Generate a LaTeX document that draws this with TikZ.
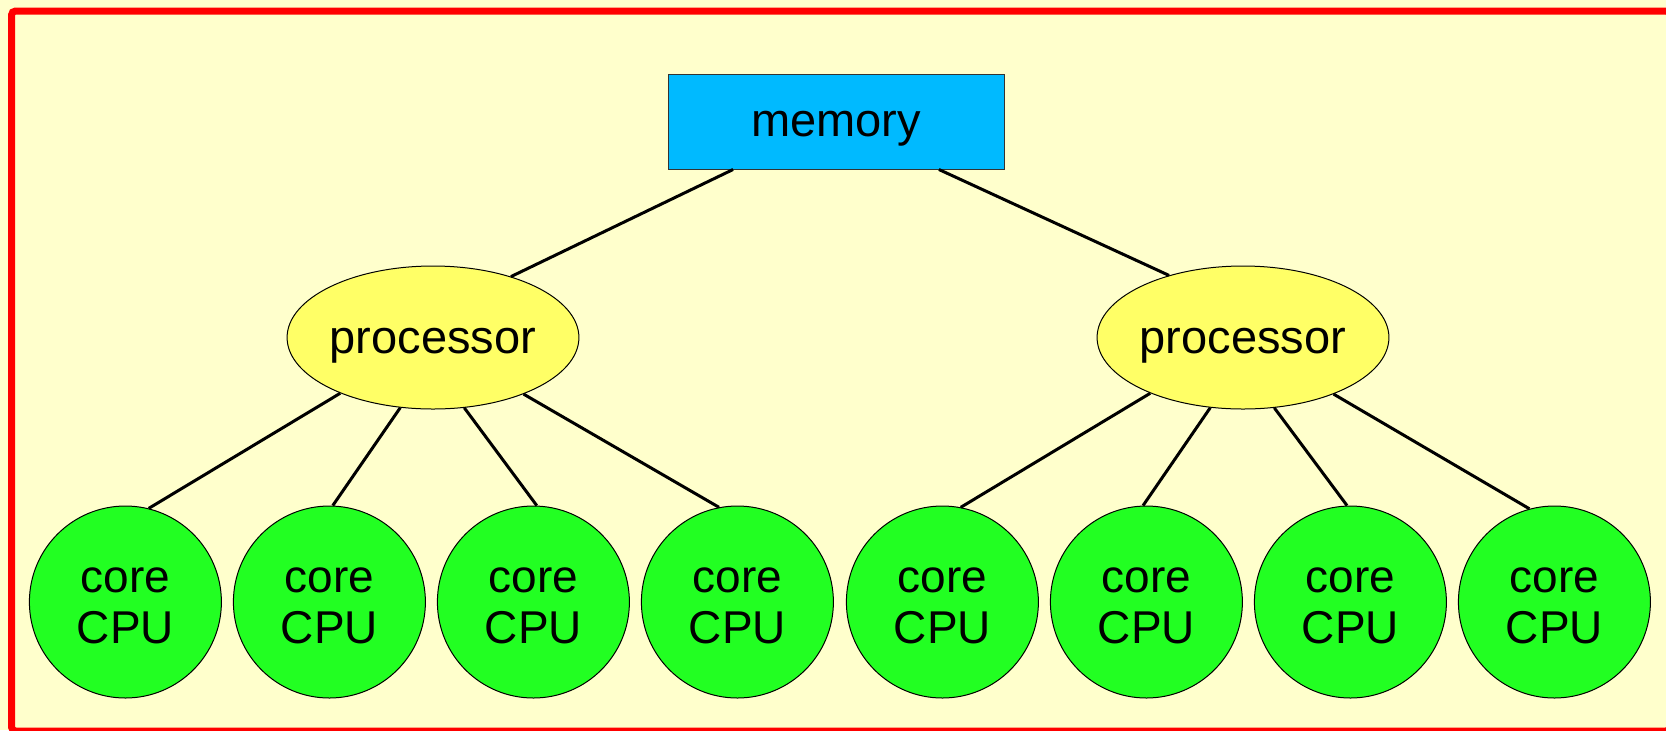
\documentclass[tikz,border=0pt]{standalone}
\usepackage{fontspec}
\setmainfont{Liberation Sans}
\usetikzlibrary{shapes.geometric}
\definecolor{bgyellow}{RGB}{255,255,204}
\definecolor{memblue}{RGB}{0,186,255}
\definecolor{procyellow}{RGB}{255,255,102}
\definecolor{coregreen}{RGB}{34,255,34}
\tikzset{
  memnode/.style={draw=black!80, line width=0.5pt, fill=memblue, rectangle, minimum width=168pt, minimum height=47.5pt, inner sep=0pt, text height=15.2pt, text depth=0pt, font=\fontsize{23.5}{27}\selectfont},
  procnode/.style={draw=black, line width=0.5pt, fill=procyellow, ellipse, minimum width=144pt, minimum height=71.5pt, inner sep=0pt, text height=16pt, text depth=0pt, font=\fontsize{23.5}{27}\selectfont},
  corenode/.style={draw=black, line width=0.5pt, fill=coregreen, circle, minimum size=96pt, inner sep=0pt, align=center, font=\fontsize{23}{25.5}\selectfont},
  link/.style={line width=1.5pt, black},
}
\begin{document}
\begin{tikzpicture}[x=0.5pt, y=-0.5pt]
\useasboundingbox (0,0) rectangle (1666,730);
\clip (0,0) rectangle (1666,730);
\fill[bgyellow] (0,0) rectangle (1666,730);
\draw[red, line width=3.5pt, rounded corners=2pt] (11.5,11) rectangle (1670,731);

\node[memnode] (mem) at (836,121.5) {memory};
\node[procnode] (p1) at (433,337.5) {processor};
\node[procnode] (p2) at (1243,337.5) {processor};

\foreach \i/\x in {1/125.4,2/329.4,3/533.4,4/737.4,5/942.4,6/1146.4,7/1350.4,8/1554.4}
  \node[corenode] (c\i) at (\x,602) {\rule{0pt}{15.8pt}core\\CPU};

\draw[link] (mem.205.2) -- (p1.38.7);
\draw[link] (mem.335.9) -- (p2.140.9);

\draw[link] (p1.211.7) -- (c1.76);
\draw[link] (p1.245.2) -- (c2.88);
\draw[link] (p1.294.8) -- (c3.88);
\draw[link] (p1.328.3) -- (c4.101);

\draw[link] (p2.211.7) -- (c5.79.7);
\draw[link] (p2.245.2) -- (c6.92.4);
\draw[link] (p2.294.8) -- (c7.92.4);
\draw[link] (p2.328.3) -- (c8.105.7);
\end{tikzpicture}
\end{document}
